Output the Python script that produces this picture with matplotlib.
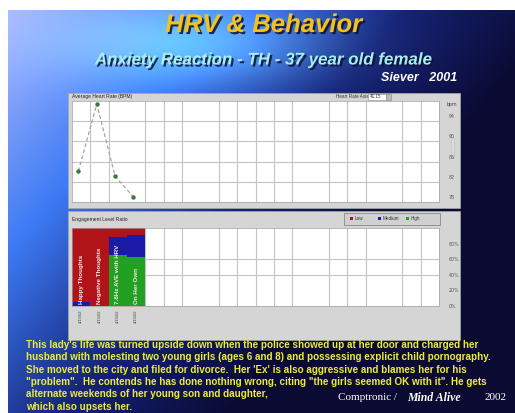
import numpy as np
import matplotlib
matplotlib.use("Agg")
import matplotlib.pyplot as plt
import matplotlib.patheffects as pe
from matplotlib.patches import Rectangle

# ---------------------------
# DATA
# ---------------------------
sessions = np.array([0, 1, 2, 3])
heart_rate = [83.1, 96.4, 82.1, 78.0]          # BPM per session
hr_ticks = [94, 90, 86, 82, 78]

bar_labels = ["Happy Thoughts", "Negative Thoughts", "7.8Hz AVE with HRV", "On Her Own"]
session_dates = ["4/15/02", "4/15/02", "4/15/02", "4/15/02"]
low_pct = [95, 100, 12, 9]
medium_pct = [5, 0, 23, 28]
high_pct = [0, 0, 65, 63]
pct_ticks = [80, 60, 40, 20, 0]
legend_names = ["Low", "Medium", "High"]

story = [
    "This lady's life was turned upside down when the police showed up at her door and charged her",
    "husband with molesting two young girls (ages 6 and 8) and possessing explicit child pornography.",
    "She moved to the city and filed for divorce.  Her 'Ex' is also aggressive and blames her for his",
    "\"problem\".  He contends he has done nothing wrong, citing \"the girls seemed OK with it\". He gets",
    "alternate weekends of her young son and daughter,",
    "which also upsets her.",
]

# ---------------------------
# STYLE
# ---------------------------
W, H = 515, 413
RED, BLUE, GREEN = "#b01419", "#1a1aa6", "#22a022"
PANEL = "#d5d5d5"
GRID = "#c4c4c4"
SANS = "Liberation Sans"
SERIF = "Liberation Serif"

fig = plt.figure(figsize=(W / 100, H / 100), dpi=100)
fig.patch.set_facecolor("white")

bg = fig.add_axes([0, 0, 1, 1])
bg.set_xlim(0, W)
bg.set_ylim(H, 0)
bg.axis("off")

# background gradient (slide backdrop)
yy, xx = np.mgrid[10:H:1.0, 8:W:1.0]
u, v = xx / W, yy / H
t = np.clip(0.9 * u + 0.6 * v, 0, 1)
stops = [0.0, 0.38, 0.72, 1.0]
cols = np.array([[0.70, 0.74, 0.99], [0.24, 0.48, 0.96], [0.08, 0.13, 0.46], [0.04, 0.04, 0.2]])
img = np.stack([np.interp(t, stops, cols[:, k]) for k in range(3)], axis=-1)
glow = np.exp(-(((xx - 200) / 130) ** 2 + ((yy - 45) / 40) ** 2))
img = np.clip(img + 0.3 * glow[..., None] * np.array([0.55, 1.0, 0.9]), 0, 1)
bg.imshow(img, extent=(8, W, H, 10), aspect="auto", zorder=0)

# titles
shadow = [pe.SimplePatchShadow(offset=(1.5, -1.5), shadow_rgbFace="#101030", alpha=0.85), pe.Normal()]
bg.text(264, 25, "HRV & Behavior", color="#f5c21c", fontsize=18.5, family=SANS,
        weight="bold", style="italic", ha="center", va="center", path_effects=shadow)
bg.text(263, 60, "Anxiety Reaction - TH - 37 year old female", color="#a6eef2", fontsize=12.2,
        family=SANS, weight="bold", style="italic", ha="center", va="center", path_effects=shadow)
bg.text(457, 78, "Siever   2001", color="white", fontsize=9, family=SANS,
        weight="bold", style="italic", ha="right", va="center")

# window panels
bg.add_patch(Rectangle((68, 93), 392, 115, facecolor=PANEL, edgecolor="#a8a8a8", lw=0.5, zorder=1))
bg.add_patch(Rectangle((68, 211), 392, 129, facecolor=PANEL, edgecolor="#a8a8a8", lw=0.5, zorder=1))
bg.text(72, 96.5, "Average Heart Rate (BPM)", fontsize=3.6, family=SANS, color="#222", va="center", zorder=2)
bg.text(336, 96.5, "Heart Rate Axis", fontsize=3.3, family=SANS, color="#333", va="center", zorder=2)
bg.add_patch(Rectangle((368, 93.5), 18, 6, facecolor="white", edgecolor="#888", lw=0.4, zorder=2))
bg.text(370, 96.5, "41.15", fontsize=3.3, family=SANS, color="#333", va="center", zorder=3)
bg.add_patch(Rectangle((386, 93.5), 5, 6, facecolor="#bbbbbb", edgecolor="#888", lw=0.4, zorder=2))
bg.add_patch(Rectangle((452, 138), 2, 20, facecolor="#eeeeee", edgecolor="#999", lw=0.3, zorder=2))
bg.text(72, 219, "Engagement Level Ratio", fontsize=3.6, family=SANS, color="#222", va="center", zorder=2)

# legend box
bg.add_patch(Rectangle((344, 213), 96, 12, facecolor="#d0d0d0", edgecolor="#8a8a8a", lw=0.6, zorder=2))
for name, color, lx in zip(legend_names, [RED, BLUE, GREEN], [350, 378, 406]):
    bg.add_patch(Rectangle((lx, 217), 3, 3, facecolor=color, edgecolor="none", zorder=3))
    bg.text(lx + 5, 218.5, name, fontsize=3.3, family=SANS, color="#333", va="center", zorder=3)


def px_axes(x0, y0, x1, y1):
    return fig.add_axes([x0 / W, 1 - y1 / H, (x1 - x0) / W, (y1 - y0) / H])


grid_cols = [1, 2, 4, 5, 6, 8, 9, 10, 11, 12, 14, 15, 16, 18, 19]

# ---------------------------
# TOP: AVERAGE HEART RATE
# ---------------------------
ax1 = px_axes(72, 101, 439, 202)
ax1.set_facecolor("white")
ax1.set_xlim(0, 20)
ax1.set_ylim(77, 97)
for c in grid_cols:
    ax1.axvline(c, color=GRID, lw=0.8, zorder=0)
for g in [81, 85, 89, 93]:
    ax1.axhline(g, color=GRID, lw=0.8, zorder=0)
ax1.plot(sessions + 0.35, heart_rate, color="#9aae96", lw=0.9, ls=(0, (3, 2)),
         marker="o", ms=2.2, mfc="#3d7a3d", mec="#3d7a3d", zorder=3)
ax1.set_xticks([])
ax1.yaxis.tick_right()
ax1.set_yticks(hr_ticks)
ax1.set_yticklabels([str(x) for x in hr_ticks])
ax1.tick_params(axis="y", length=0, pad=7, labelsize=3.4, labelcolor="#555")
ax1.text(1.02, 0.97, "bpm", transform=ax1.transAxes, fontsize=3.4, color="#444", va="center")
for s in ax1.spines.values():
    s.set_color("#a0a0a0")
    s.set_linewidth(0.5)

# ---------------------------
# BOTTOM: ENGAGEMENT LEVEL RATIO
# ---------------------------
ax2 = px_axes(72, 228, 439, 306)
ax2.set_facecolor("white")
ax2.set_xlim(0, 20)
ax2.set_ylim(0, 100)
for c in grid_cols:
    ax2.axvline(c, color=GRID, lw=0.8, zorder=0)
for g in [40, 60]:
    ax2.axhline(g, color=GRID, lw=0.8, zorder=0)

xb = sessions + 0.5
ax2.bar(xb, high_pct, width=1.0, color=GREEN, zorder=2)
ax2.bar(xb, medium_pct, width=1.0, bottom=high_pct, color=BLUE, zorder=2)
ax2.bar(xb, low_pct, width=1.0, bottom=np.add(high_pct, medium_pct), color=RED, zorder=2)
for x, lab in zip(xb, bar_labels):
    ax2.text(x, 3, lab, rotation=90, ha="center", va="bottom", fontsize=4.5,
             family=SANS, weight="bold", color="#f6e6e6", zorder=4)
for x, d in zip(xb, session_dates):
    ax2.text(x, -5, d, rotation=90, ha="center", va="top", fontsize=3.0,
             family=SANS, color="#444", clip_on=False)

ax2.set_xticks([])
ax2.yaxis.tick_right()
ax2.set_yticks(pct_ticks)
ax2.set_yticklabels([f"{p}%" for p in pct_ticks])
ax2.tick_params(axis="y", length=0, pad=7, labelsize=3.4, labelcolor="#555")
for s in ax2.spines.values():
    s.set_color("#a0a0a0")
    s.set_linewidth(0.5)

# ---------------------------
# STORY TEXT
# ---------------------------
for i, line in enumerate(story):
    bg.text(26, 345 + i * 12.3, line, color="#ecec3a", fontsize=7.15, family=SANS,
            weight="bold", va="center", ha="left")

bg.text(338, 398, "Comptronic /", color="white", fontsize=8, family=SERIF, va="center")
bg.text(407, 398, "Mind Alive", color="white", fontsize=8.5, family=SERIF, weight="bold",
        style="italic", va="center")
bg.text(507, 398, "2002", color="white", fontsize=8, family=SERIF, va="center", ha="right")

fig.savefig("out.png", dpi=100)
